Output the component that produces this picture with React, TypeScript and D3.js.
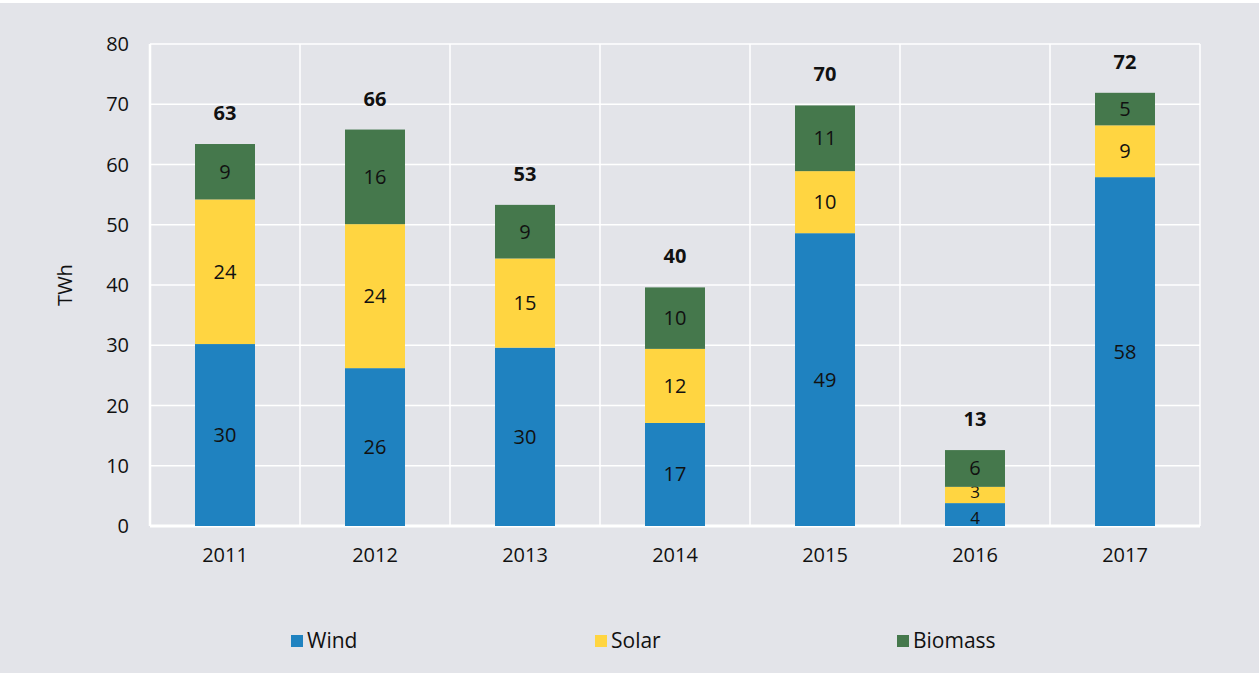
import React from 'react';
import * as d3 from 'd3';

const years = ['2011', '2012', '2013', '2014', '2015', '2016', '2017'];
const wind = [30.2, 26.2, 29.6, 17.1, 48.6, 3.8, 57.9];
const solar = [24.0, 23.9, 14.8, 12.3, 10.3, 2.7, 8.6];
const biomass = [9.2, 15.7, 8.9, 10.2, 10.9, 6.1, 5.4];
const seriesNames = ['Wind', 'Solar', 'Biomass'];
const seriesColors = ['#1f82c0', '#ffd541', '#45784c'];
const yTicks = [0, 10, 20, 30, 40, 50, 60, 70, 80];

const W = 1259;
const H = 674;
const FONT = '"Open Sans", "Noto Sans", sans-serif';

export default function App() {
  const rows = years.map((year, i) => ({ year, Wind: wind[i], Solar: solar[i], Biomass: biomass[i] }));
  const stacked = d3.stack<any>().keys(seriesNames)(rows);

  const x = d3.scaleBand().domain(years).range([150, 1200]).paddingInner(0).paddingOuter(0);
  const y = d3.scaleLinear().domain([0, 80]).range([526, 44]);
  const barW = 60;
  const bx = (yr: string) => (x(yr) as number) + x.bandwidth() / 2 - barW / 2;

  const boundaries = years.map((yr) => x(yr) as number).concat([1200]);

  return (
    <svg width={W} height={H} style={{ display: 'block', position: 'absolute', left: 0, top: 0 }} fontFamily={FONT}>
      <rect x={0} y={0} width={W} height={H} fill="#ffffff" />
      <rect x={0} y={3} width={W} height={H - 4} fill="#e3e4e9" />

      {/* grid */}
      {yTicks.map((t) => (
        <line key={'h' + t} x1={150} x2={1200} y1={y(t)} y2={y(t)} stroke="#ffffff" strokeWidth={t === 0 ? 3 : 1.5} />
      ))}
      {boundaries.map((bxx, i) => (
        <line key={'v' + i} x1={bxx} x2={bxx} y1={y(80)} y2={y(0)} stroke="#ffffff" strokeWidth={i === 0 ? 2.5 : 1.5} />
      ))}

      {/* y ticks */}
      {yTicks.map((t) => (
        <text key={'yt' + t} x={129} y={y(t)} dy="0.35em" textAnchor="end" fontSize={20} fill="#111">
          {t}
        </text>
      ))}
      <text transform={`translate(72, ${y(40)}) rotate(-90)`} textAnchor="middle" fontSize={20} fill="#111">
        TWh
      </text>

      {/* x labels */}
      {years.map((yr) => (
        <text key={'xl' + yr} x={(x(yr) as number) + x.bandwidth() / 2} y={562} textAnchor="middle" fontSize={20} fill="#111">
          {yr}
        </text>
      ))}

      {/* bars */}
      {stacked.map((layer, si) => (
        <g key={layer.key}>
          {layer.map((d: any, i: number) => {
            const yr = years[i];
            const top = y(d[1]);
            const bot = y(d[0]);
            const small = bot - top < 24;
            // nudge tiny segment labels apart so they don't collide
            const nudge = small ? (si === 0 ? 3 : si === 1 ? -3 : 0) : 0;
            return (
              <g key={yr}>
                <rect x={bx(yr)} y={top} width={barW} height={bot - top} fill={seriesColors[si]} />
                <text
                  x={bx(yr) + barW / 2}
                  y={(top + bot) / 2 + nudge}
                  dy="0.35em"
                  textAnchor="middle"
                  fontSize={small ? 17 : 20}
                  fill="#111"
                >
                  {Math.round(d[1] - d[0])}
                </text>
              </g>
            );
          })}
        </g>
      ))}

      {/* totals */}
      {years.map((yr, i) => {
        const total = wind[i] + solar[i] + biomass[i];
        return (
          <text
            key={'tot' + yr}
            x={bx(yr) + barW / 2}
            y={y(total) - 31}
            dy="0.35em"
            textAnchor="middle"
            fontSize={20}
            fontWeight="bold"
            fill="#111"
          >
            {Math.round(total)}
          </text>
        );
      })}

      {/* legend */}
      {seriesNames.map((name, i) => {
        const lx = [291, 595, 897][i];
        return (
          <g key={'lg' + name}>
            <rect x={lx} y={635} width={12} height={12} fill={seriesColors[i]} />
            <text x={lx + 16} y={641} dy="0.35em" fontSize={21} fill="#111">
              {name}
            </text>
          </g>
        );
      })}
    </svg>
  );
}
